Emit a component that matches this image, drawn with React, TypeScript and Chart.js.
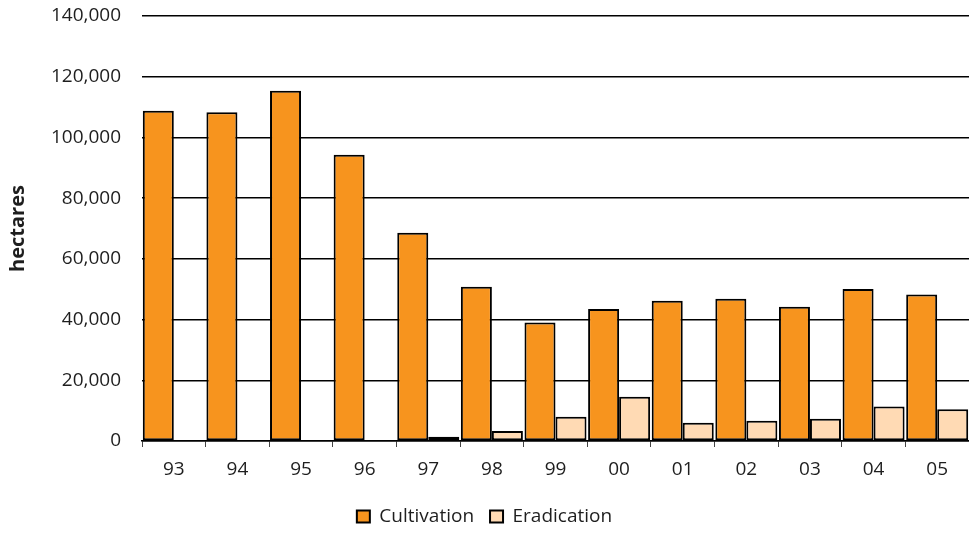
import React, { useEffect, useRef } from "react";
import { Chart, registerables } from "chart.js";

Chart.register(...registerables);

const categories = ["93", "94", "95", "96", "97", "98", "99", "00", "01", "02", "03", "04", "05"];
const cultivation = [108800, 108300, 115400, 94300, 68600, 50800, 39000, 43500, 46200, 46900, 44200, 50100, 48300];
const eradication = [null, null, null, null, 1400, 3300, 8000, 14600, 6000, 6700, 7300, 11400, 10500];
const yTicks = [0, 20000, 40000, 60000, 80000, 100000, 120000, 140000];

const FONT = "'Open Sans', 'Noto Sans', sans-serif";
const TEXT = "#1e1e1e";

export default function App() {
  const ref = useRef<HTMLCanvasElement | null>(null);

  useEffect(() => {
    if (!ref.current) return;
    const chart = new Chart(ref.current, {
      type: "bar",
      data: {
        labels: categories,
        datasets: [
          {
            label: "Cultivation",
            data: cultivation,
            backgroundColor: "#F7941E",
            borderColor: "#000",
            borderWidth: 2,
            borderSkipped: false,
          },
          {
            label: "Eradication",
            data: eradication as any,
            backgroundColor: "#FFDAB4",
            borderColor: "#000",
            borderWidth: 2,
            borderSkipped: false,
          },
        ],
      },
      options: {
        responsive: false,
        animation: false,
        layout: { padding: { top: 16, right: 0, bottom: 0, left: 0 } },
        datasets: { bar: { categoryPercentage: 0.975, barPercentage: 1 } },
        plugins: {
          tooltip: { enabled: false },
          legend: {
            position: "bottom",
            labels: {
              font: { family: FONT, size: 19 },
              color: TEXT,
              boxWidth: 13,
              boxHeight: 12,
              padding: 16,
            },
          },
        },
        scales: {
          x: {
            offset: true,
            border: { display: true, color: "#000", width: 1.5 },
            grid: {
              display: true,
              offset: true,
              drawOnChartArea: false,
              drawTicks: true,
              tickLength: 6,
              color: "#444",
              lineWidth: 1,
            },
            ticks: {
              font: { family: FONT, size: 19 },
              color: TEXT,
              padding: 11,
              maxRotation: 0,
            },
            afterFit: (scale: any) => {
              scale.height = 50;
            },
          },
          y: {
            min: 0,
            max: 140000,
            border: { display: false },
            grid: {
              color: "#000",
              lineWidth: 1.5,
              drawTicks: true,
              tickLength: 21,
              tickColor: "rgba(0,0,0,0)",
            },
            afterBuildTicks: (scale: any) => {
              scale.ticks = yTicks.map((v) => ({ value: v }));
            },
            ticks: {
              font: { family: FONT, size: 19 },
              color: TEXT,
              padding: 0,
              callback: (v: any) => Number(v).toLocaleString("en-US"),
            },
            title: {
              display: true,
              text: "hectares",
              font: { family: FONT, size: 20, weight: "bold" },
              color: TEXT,
              padding: { top: 6, bottom: 0 },
            },
            afterFit: (scale: any) => {
              scale.width = 142;
            },
          },
        },
      },
    });
    return () => chart.destroy();
  }, []);

  return (
    <div style={{ position: "fixed", left: 0, top: 0, width: 969, height: 536, background: "#fff" }}>
      <canvas ref={ref} width={969} height={536} style={{ display: "block" }} />
    </div>
  );
}
